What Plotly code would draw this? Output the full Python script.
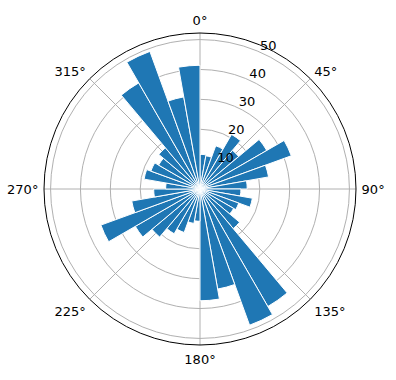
import plotly.graph_objects as go

bin_centers = [5 + 10 * i for i in range(36)]
counts = [11.6, 11.3, 15.4, 21.1, 16.9, 25.8, 32.5, 23.3, 15.8,
          13.7, 17.8, 13.8, 13.0, 17.3, 45.4, 48.5, 34.0, 37.4,
          10.8, 11.7, 15.5, 17.3, 21.0, 25.0, 35.3, 23.2, 15.5,
          11.5, 19.0, 17.5, 16.0, 18.0, 41.0, 49.0, 31.3, 41.4]
radial_ticks = [10, 20, 30, 40, 50]
angle_ticks = [0, 45, 90, 135, 180, 225, 270, 315]
angle_labels = [f"{a}°" for a in angle_ticks]

fig = go.Figure()
fig.add_trace(go.Barpolar(
    r=counts, theta=bin_centers, width=[10] * len(counts),
    marker=dict(color="#1f77b4", line=dict(color="white", width=1)),
    opacity=1,
))

W, H = 396, 380
cx, cy, R = 200, 189, 156
fig.update_layout(
    width=W, height=H,
    margin=dict(l=0, r=0, t=0, b=0),
    paper_bgcolor="white",
    showlegend=False,
    font=dict(family="DejaVu Sans", size=13, color="black"),
    polar=dict(
        domain=dict(x=[(cx - R) / W, (cx + R) / W], y=[1 - (cy + R) / H, 1 - (cy - R) / H]),
        bgcolor="white",
        bargap=0,
        angularaxis=dict(
            direction="clockwise", rotation=90,
            tickmode="array", tickvals=angle_ticks, ticktext=angle_labels,
            showgrid=True, gridcolor="#b0b0b0", gridwidth=0.8,
            showline=True, linecolor="black", linewidth=1,
            ticks="outside", ticklen=2.5, tickcolor="rgba(0,0,0,0)",
            layer="above traces",
            tickfont=dict(size=13),
        ),
        radialaxis=dict(
            range=[0, 52.2], angle=69,
            tickmode="array", tickvals=radial_ticks,
            ticktext=[f"{v}<br> " for v in radial_ticks],
            showgrid=True, gridcolor="#b0b0b0", gridwidth=0.8,
            showline=False, ticks="", layer="above traces",
            tickangle=69,
            tickfont=dict(size=13),
        ),
    ),
)
fig.write_html("out.html")
